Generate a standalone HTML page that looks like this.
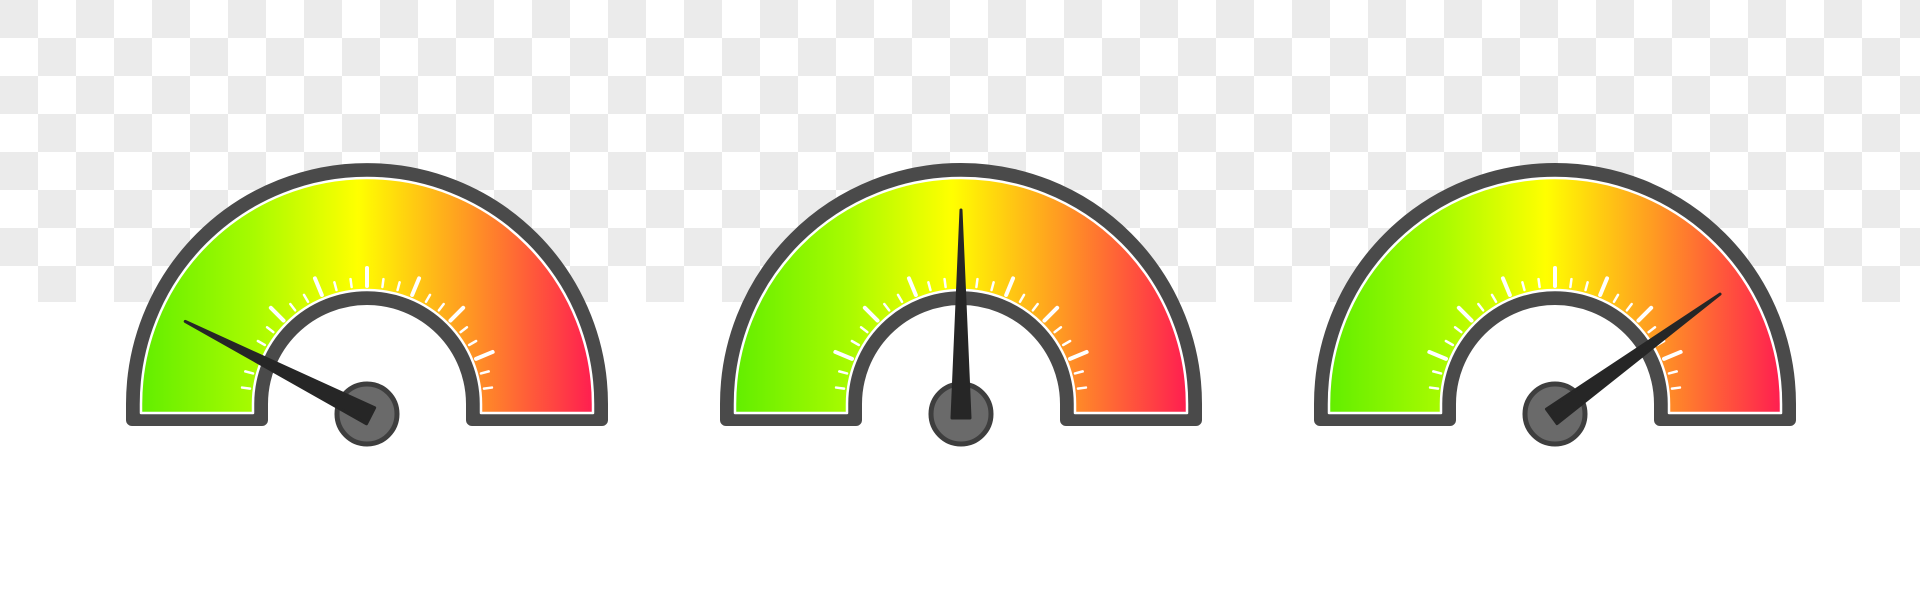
<!DOCTYPE html>
<html><head><meta charset="utf-8">
<style>
html,body{margin:0;padding:0;background:#fff;width:1920px;height:611px;overflow:hidden}
svg{display:block}
</style></head>
<body>
<svg id="chart" width="1920" height="611" viewBox="0 0 1920 611" xmlns="http://www.w3.org/2000/svg">
<defs>
<pattern id="checker" width="76" height="76" patternUnits="userSpaceOnUse">
<rect width="76" height="76" fill="#ffffff"/>
<rect x="0" y="0" width="38" height="38" fill="#ebebeb"/>
<rect x="38" y="38" width="38" height="38" fill="#ebebeb"/>
</pattern>
<linearGradient id="band" x1="0" y1="0" x2="1" y2="0">
<stop offset="0" stop-color="#62ee00"/>
<stop offset="0.25" stop-color="#a8fb00"/>
<stop offset="0.48" stop-color="#ffff00"/>
<stop offset="0.72" stop-color="#ff9a22"/>
<stop offset="1" stop-color="#ff1e50"/>
</linearGradient>
</defs>
<rect x="0" y="0" width="1920" height="302" fill="url(#checker)"/>
<g id="gauges"></g>
</svg>
<script>
const gaugeNames = ["gauge-low", "gauge-mid", "gauge-high"];
const gaugeValues = [15, 50, 80];
const tickCount = 24;

const NS = "http://www.w3.org/2000/svg";
const centersX = [367, 961, 1555];
const cy = 404, baseY = 420;
function angleOf(v){ return Math.PI * (1 - v / 100); }
function shape(cx, rO, rI, by){
  return `M${cx-rO},${by} L${cx-rO},${cy} A${rO} ${rO} 0 0 1 ${cx+rO},${cy} L${cx+rO},${by} L${cx+rI},${by} L${cx+rI},${cy} A${rI} ${rI} 0 0 0 ${cx-rI},${cy} L${cx-rI},${by} Z`;
}
function mk(tag, attrs, parent){
  const e = document.createElementNS(NS, tag);
  for (const k in attrs) e.setAttribute(k, attrs[k]);
  parent.appendChild(e);
  return e;
}
const root = document.getElementById("gauges");
gaugeValues.forEach((val, i) => {
  const cx = centersX[i];
  const g = mk("g", {}, root);
  
  
  const frame = mk("path", {d: shape(cx, 235, 105, baseY), fill: "#4a4a4a", stroke: "#4a4a4a", "stroke-width": 12, "stroke-linejoin": "round"}, g);
  
  
  const band = mk("path", {d: shape(cx, 226, 114, baseY - 7), fill: "url(#band)", stroke: "#ffffff", "stroke-width": 2.5, "stroke-linejoin": "round"}, g);
  
  
  const ticks = mk("g", {stroke: "#ffffff", "stroke-linecap": "round"}, g);
  
  
  for (let t = 1; t < tickCount; t++){
    const a = Math.PI * (1 - t / tickCount);
    const major = t % 3 === 0;
    const r1 = 118, r2 = major ? 136 : 126;
    const tk = mk("line", {x1: cx + r1*Math.cos(a), y1: cy - r1*Math.sin(a), x2: cx + r2*Math.cos(a), y2: cy - r2*Math.sin(a), "stroke-width": major ? 4 : 2.5}, ticks);
    
    
  }
  const hy = 414;
  const hub = mk("circle", {cx: cx, cy: hy, r: 30, fill: "#6a6a6a", stroke: "#3e3e3e", "stroke-width": 5}, g);
  
  
  const a = angleOf(val);
  const len = 204, w = 9;
  const tx = cx + len*Math.cos(a), ty = hy - len*Math.sin(a);
  const bx = cx - 4*Math.cos(a), by = hy + 4*Math.sin(a);
  const px = Math.sin(a)*w, py = Math.cos(a)*w;
  const needle = mk("polygon", {points: `${tx},${ty} ${bx+px},${by+py} ${bx-px},${by-py}`, fill: "#262626", stroke: "#262626", "stroke-width": 3, "stroke-linejoin": "round"}, g);
  
  
});
</script>
</body></html>
